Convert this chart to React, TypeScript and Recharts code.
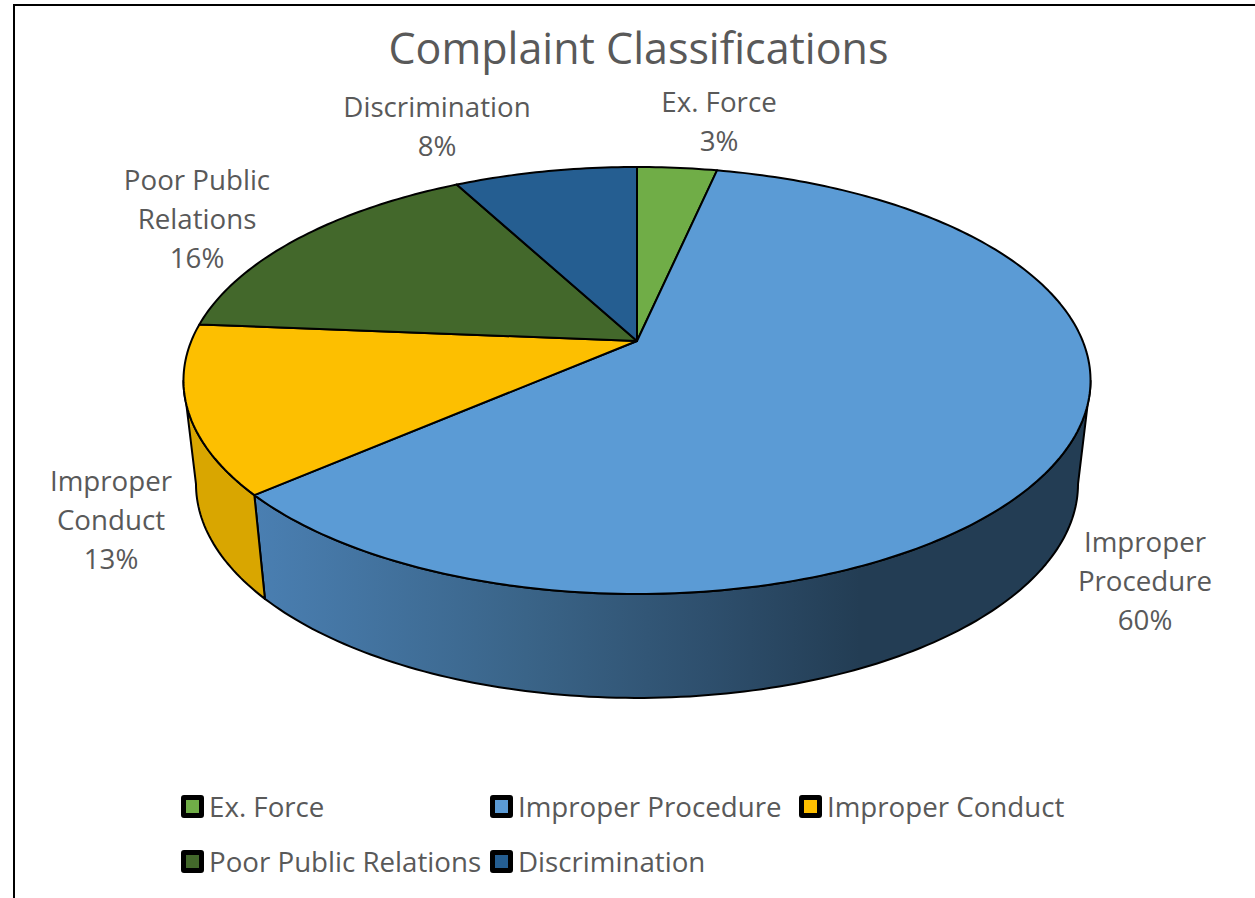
import React from "react";
import { PieChart, Pie, Legend } from "recharts";

const categories = ["Ex. Force", "Improper Procedure", "Improper Conduct", "Poor Public Relations", "Discrimination"];
const shares = [3.4, 60.2, 12.7, 15.9, 7.8];
const colors = ["#70AD47", "#5B9BD5", "#FDBF00", "#43682B", "#255E91"];
const labelLines = [["Ex. Force"], ["Improper", "Procedure"], ["Improper", "Conduct"], ["Poor Public", "Relations"], ["Discrimination"]];

const data = categories.map((name, i) => ({ name, value: shares[i], fill: colors[i] }));

// Layout of the labels (centre x, first baseline y)
const labelAnchors = [[719, 112], [1145, 552], [111, 491], [197, 190], [437, 117]];
const TEXT = "#595959";
const FONT = "'Open Sans', sans-serif";
const CX = 637;
const CY = 341;
const R = 206;

// Perspective tilt of the pie disc
const P = 0.185;
const AX = 445.7 / R;
const BY = 206.2 / R;
const WALL_SX = 0.9724;
const WALL_SY = 1.002;
const TOP_CENTRE_Y = 380.5;
const WALL_CENTRE_Y = 484;

const project = (deg: number, cx: number, cy: number, r: number) => {
  const t = (deg * Math.PI) / 180;
  const u = Math.cos(t);
  const v = Math.sin(t);
  const w = 1 + P * v;
  return [cx + (AX * r * u) / w, cy - (BY * r * v) / w];
};
const projectBottom = (deg: number, cx: number, cy: number, r: number) => {
  const [x, y] = project(deg, cx, cy, r);
  return [cx + (x - cx) * WALL_SX, WALL_CENTRE_Y + (y - TOP_CENTRE_Y) * WALL_SY];
};
const arc = (from: number, to: number, fn: typeof project, cx: number, cy: number, r: number) => {
  const n = Math.max(2, Math.ceil(Math.abs(from - to)));
  const out: string[] = [];
  for (let i = 0; i <= n; i++) {
    const [x, y] = fn(from + ((to - from) * i) / n, cx, cy, r);
    out.push(`${x.toFixed(2)} ${y.toFixed(2)}`);
  }
  return out;
};

const WALL_RIGHT = -10.7;
const WALL_LEFT = -169.3;

const TiltedSlice = (props: any) => {
  const { cx, cy, outerRadius, startAngle, endAngle, fill, name } = props;
  const a0 = Math.min(startAngle, WALL_RIGHT);
  const a1 = Math.max(endAngle, WALL_LEFT);
  const top = arc(startAngle, endAngle, project, cx, cy, outerRadius);
  const isBlue = name === "Improper Procedure";
  let wall = null;
  if (a0 > a1) {
    const upper = arc(a0, a1, project, cx, cy, outerRadius);
    const lower = arc(a1, a0, projectBottom, cx, cy, outerRadius);
    wall = (
      <path
        d={`M${upper.join("L")}L${lower.join("L")}Z`}
        fill={isBlue ? "url(#wallBlue)" : "#D9A600"}
        stroke="#000"
        strokeWidth={2}
        strokeLinejoin="round"
      />
    );
  }
  return (
    <g>
      {wall}
      <path d={`M${cx} ${cy}L${top.join("L")}Z`} fill={fill} stroke="#000" strokeWidth={2} strokeLinejoin="round" />
    </g>
  );
};

const renderLabel = (props: any) => {
  const i = props.index;
  const [x, y] = labelAnchors[i];
  const lines = [...labelLines[i], `${Math.round(shares[i])}%`];
  return (
    <text x={x} y={y} textAnchor="middle" fontFamily={FONT} fontSize={27.7} fill={TEXT}>
      {lines.map((l, k) => (
        <tspan key={k} x={x} dy={k === 0 ? 0 : 39}>
          {l}
        </tspan>
      ))}
    </text>
  );
};

const renderLegend = (props: any) => (
  <div
    style={{
      display: "grid",
      gridTemplateColumns: "309px 309px auto",
      gridAutoRows: "55px",
      fontFamily: FONT,
      fontSize: 27.7,
      color: TEXT,
      whiteSpace: "nowrap",
    }}
  >
    {props.payload.map((e: any) => (
      <div key={e.value} style={{ display: "flex", alignItems: "center", height: 23 }}>
        <span
          style={{
            boxSizing: "border-box",
            width: 23,
            height: 23,
            background: e.color,
            border: "5px solid #000",
            borderRadius: 3,
            marginRight: 5,
            flex: "none",
          }}
        />
        <span style={{ position: "relative", top: -1 }}>{e.value}</span>
      </div>
    ))}
  </div>
);

export default function App() {
  return (
    <div style={{ position: "absolute", left: 0, top: 0, width: 1255, height: 898, background: "#fff" }}>
      <PieChart width={1255} height={898} margin={{ top: 0, right: 0, bottom: 0, left: 0 }}>
        <defs>
          <linearGradient id="wallBlue" gradientUnits="userSpaceOnUse" x1={253} y1={0} x2={860} y2={0}>
            <stop offset="0" stopColor="#4A7FB2" />
            <stop offset="0.45" stopColor="#3A6488" />
            <stop offset="0.75" stopColor="#2E4F6D" />
            <stop offset="1" stopColor="#233D54" />
          </linearGradient>
        </defs>
        <line x1={13} y1={5} x2={1255} y2={5} stroke="#000" strokeWidth={2} />
        <line x1={14} y1={5} x2={14} y2={898} stroke="#000" strokeWidth={2} />
        <text x={638.5} y={64} textAnchor="middle" fontFamily={FONT} fontSize={43} fill={TEXT}>
          Complaint Classifications
        </text>
        <Pie
          data={data}
          dataKey="value"
          nameKey="name"
          cx={CX}
          cy={CY}
          outerRadius={R}
          startAngle={90}
          endAngle={-270}
          isAnimationActive={false}
          shape={TiltedSlice}
          label={renderLabel}
          labelLine={false}
        />
        <Legend
          content={renderLegend}
          itemSorter={null}
          wrapperStyle={{ position: "absolute", left: 181, top: 795, width: 1000, bottom: "auto", right: "auto" }}
        />
      </PieChart>
    </div>
  );
}
